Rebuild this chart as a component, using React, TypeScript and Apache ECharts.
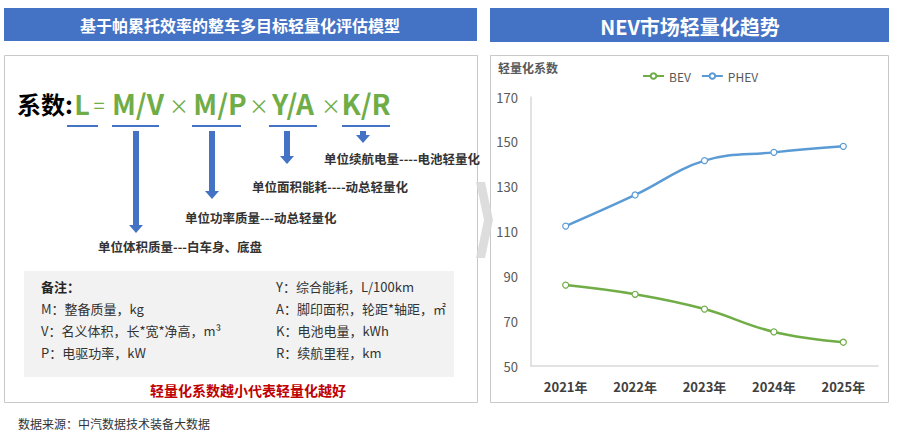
import React, { useEffect, useRef } from 'react';
import * as echarts from 'echarts';

const years = ['2021年', '2022年', '2023年', '2024年', '2025年'];
const bevValues = [86.1, 82.0, 75.4, 65.2, 60.6];
const phevValues = [112.4, 126.3, 141.6, 145.3, 148.0];
const seriesNames = ['BEV', 'PHEV'];

const noteLeft = ['M：整备质量，kg', 'V：名义体积，长*宽*净高，m³', 'P：电驱功率，kW'];
const noteRight = ['Y：综合能耗，L/100km', 'A：脚印面积，轮距*轴距，㎡', 'K：电池电量，kWh', 'R：续航里程，km'];
const arrowLabels = [
  '单位体积质量---白车身、底盘',
  '单位功率质量---动总轻量化',
  '单位面积能耗----动总轻量化',
  '单位续航电量----电池轻量化'
];

const FONT = '"Noto Sans CJK SC", "Noto Sans", sans-serif';
const BLUE = '#4472C4';
const GREEN = '#70AD47';
const LINE_BLUE = '#5B9BD5';

const txt = (
  text: string,
  x: number,
  y: number,
  size: number,
  fill: string,
  weight: string = 'normal',
  align: string = 'left'
) => ({
  type: 'text',
  x,
  y,
  z: 10,
  style: {
    text,
    fill,
    fontSize: size,
    fontWeight: weight,
    fontFamily: FONT,
    textAlign: align,
    align,
    textVerticalAlign: 'middle',
    verticalAlign: 'middle'
  }
});

const arrow = (cx: number, top: number, tip: number) => ({
  type: 'polygon',
  z: 10,
  shape: {
    points: [
      [cx - 3, top],
      [cx + 3, top],
      [cx + 3, tip - 8],
      [cx + 7, tip - 8],
      [cx, tip],
      [cx - 7, tip - 8],
      [cx - 3, tip - 8]
    ]
  },
  style: { fill: BLUE }
});

const underline = (x1: number, x2: number) => ({
  type: 'line',
  z: 10,
  shape: { x1, y1: 126, x2, y2: 126 },
  style: { stroke: BLUE, lineWidth: 2 }
});

const App: React.FC = () => {
  const chartRef = useRef<HTMLDivElement>(null);

  useEffect(() => {
    document.body.style.margin = '0';
    if (!chartRef.current) return;
    const chart = echarts.init(chartRef.current, null, { renderer: 'svg' });

    const graphic: any[] = [
      // headers
      { type: 'rect', shape: { x: 4, y: 8, width: 473, height: 33 }, style: { fill: BLUE } },
      { type: 'rect', shape: { x: 490, y: 8, width: 399, height: 34 }, style: { fill: BLUE } },
      txt('基于帕累托效率的整车多目标轻量化评估模型', 240, 25, 16, '#ffffff', 'bold', 'center'),
      txt('NEV市场轻量化趋势', 690, 26, 20, '#ffffff', 'bold', 'center'),
      // panels
      { type: 'rect', shape: { x: 4.5, y: 55.5, width: 473, height: 347 }, style: { fill: '#ffffff', stroke: '#C9C9C9', lineWidth: 1 } },
      { type: 'rect', shape: { x: 490.5, y: 55.5, width: 398, height: 347 }, style: { fill: '#ffffff', stroke: '#C9C9C9', lineWidth: 1 } },
      // formula
      txt('系数:', 17, 103, 24, '#000000', 'bold'),
      txt('L', 82, 103, 27, GREEN, 'bold', 'center'),
      txt('=', 99, 104, 20, GREEN, 'normal', 'center'),
      txt('M/V', 138, 103, 28, GREEN, 'bold', 'center'),
      txt('×', 179, 105, 20, GREEN, 'normal', 'center'),
      txt('M/P', 220, 103, 28, GREEN, 'bold', 'center'),
      txt('×', 259, 105, 20, GREEN, 'normal', 'center'),
      txt('Y/A', 293, 103, 28, GREEN, 'bold', 'center'),
      txt('×', 331, 105, 20, GREEN, 'normal', 'center'),
      txt('K/R', 366, 103, 28, GREEN, 'bold', 'center'),
      underline(67, 98),
      underline(112, 159),
      underline(192, 241),
      underline(269, 317),
      underline(342, 390),
      arrow(136, 131, 233),
      arrow(212, 131, 199),
      arrow(287, 131, 164),
      arrow(363, 131, 143),
      txt(arrowLabels[0], 98, 246, 12.5, '#333333', 'bold'),
      txt(arrowLabels[1], 185, 217, 12.5, '#333333', 'bold'),
      txt(arrowLabels[2], 252, 186, 12.5, '#333333', 'bold'),
      txt(arrowLabels[3], 324, 158, 12.5, '#333333', 'bold'),
      // notes
      { type: 'rect', z: 5, shape: { x: 24, y: 271, width: 430, height: 106 }, style: { fill: '#F2F2F2' } },
      txt('备注：', 41, 286, 13, '#262626', 'bold'),
      ...noteLeft.map((t, i) => txt(t, 41, 308 + i * 22, 13, '#333333')),
      ...noteRight.map((t, i) => txt(t, 276, 286 + i * 22, 13, '#333333')),
      txt('轻量化系数越小代表轻量化越好', 248, 390, 14, '#C00000', 'bold', 'center'),
      txt('数据来源：中汽数据技术装备大数据', 18, 423, 12, '#333333'),
      // chart axis title
      txt('轻量化系数', 498, 67, 12, '#595959', 'bold'),
      // chevron
      {
        type: 'polygon',
        z: 20,
        shape: {
          points: [
            [476, 182],
            [485, 182],
            [493, 220],
            [485, 258],
            [476, 258],
            [484, 220]
          ]
        },
        style: { fill: '#D9D9D9', opacity: 0.9 }
      }
    ];

    const option: any = {
      animation: false,
      textStyle: { fontFamily: FONT },
      graphic,
      legend: {
        left: 637,
        top: 65,
        itemWidth: 21,
        itemHeight: 7,
        itemGap: 10,
        textStyle: { color: '#595959', fontSize: 12, fontFamily: FONT },
        data: seriesNames
      },
      grid: { left: 531, right: 20, top: 97, bottom: 71, containLabel: false },
      xAxis: {
        type: 'category',
        data: years,
        boundaryGap: true,
        axisLine: { lineStyle: { color: '#D9D9D9', width: 1.5 } },
        axisTick: { show: false },
        axisLabel: { color: '#404040', fontSize: 13, fontWeight: 'bold', margin: 14, fontFamily: FONT }
      },
      yAxis: {
        type: 'value',
        min: 50,
        max: 170,
        interval: 20,
        axisLine: { show: true, lineStyle: { color: '#D9D9D9', width: 1.5 } },
        axisTick: { show: false },
        splitLine: { show: false },
        axisLabel: { color: '#595959', fontSize: 13, margin: 13, fontFamily: FONT }
      },
      series: [
        {
          name: seriesNames[0],
          type: 'line',
          data: bevValues,
          smooth: 0.4,
          color: GREEN,
          symbol: 'circle',
          symbolSize: 6,
          lineStyle: { color: GREEN, width: 2.5 },
          itemStyle: { color: '#ffffff', borderColor: GREEN, borderWidth: 1.2 }
        },
        {
          name: seriesNames[1],
          type: 'line',
          data: phevValues,
          smooth: 0.4,
          color: LINE_BLUE,
          symbol: 'circle',
          symbolSize: 6,
          lineStyle: { color: LINE_BLUE, width: 2.5 },
          itemStyle: { color: '#ffffff', borderColor: LINE_BLUE, borderWidth: 1.2 }
        }
      ]
    };

    chart.setOption(option);
    return () => {
      chart.dispose();
    };
  }, []);

  return <div ref={chartRef} style={{ width: 898, height: 437 }} />;
};

export default App;
